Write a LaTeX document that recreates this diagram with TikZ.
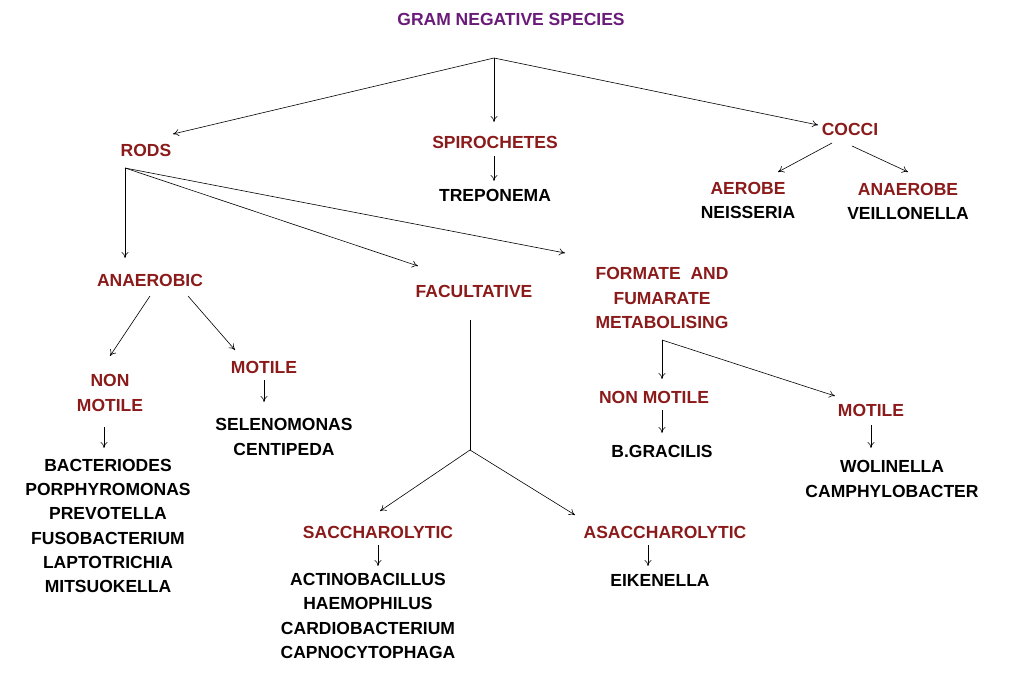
\documentclass[tikz,border=0pt]{standalone}
\usepackage{fontspec}
\setmainfont{Liberation Sans}
\usetikzlibrary{arrows.meta}
\definecolor{hd}{HTML}{8B1A1A}
\definecolor{tt}{HTML}{6A1B7A}
\begin{document}
\begin{tikzpicture}[x=1pt,y=-1pt,
  lab/.style={font=\fontsize{17.5}{24.2}\selectfont\bfseries,inner sep=0pt,align=center},
  hdr/.style={lab,text=hd},
  sp/.style={lab,text=black},
  ar/.style={-{To[length=6pt,width=7pt]},line width=0.6pt},
  ln/.style={line width=0.6pt}]
\useasboundingbox (0,0) rectangle (1024,672);
\node[lab,text=tt] (t) at (511,19) {GRAM NEGATIVE SPECIES};
\node[hdr] (rods) at (146,150) {RODS};
\node[hdr] (spi) at (495,142) {SPIROCHETES};
\node[hdr] (cocci) at (850,129) {COCCI};
\node[sp] (trep) at (495,195) {TREPONEMA};
\node[hdr] (aer) at (748,188) {AEROBE};
\node[sp] (neis) at (748,212) {NEISSERIA};
\node[hdr] (anae) at (908,189) {ANAEROBE};
\node[sp] (veil) at (908,213) {VEILLONELLA};
\node[hdr] (anaer) at (150,280) {ANAEROBIC};
\node[hdr] (fac) at (474,291) {FACULTATIVE};
\node[hdr,align=center] (form) at (662,298) {FORMATE \ AND\\FUMARATE\\METABOLISING};
\node[hdr] (nm) at (110,393) {NON\\MOTILE};
\node[hdr] (mot) at (264,367) {MOTILE};
\node[sp] (sel) at (284,437) {SELENOMONAS\\CENTIPEDA};
\node[sp] (bac) at (108,526) {BACTERIODES\\PORPHYROMONAS\\PREVOTELLA\\FUSOBACTERIUM\\LAPTOTRICHIA\\MITSUOKELLA};
\node[hdr] (nm2) at (654,397) {NON MOTILE};
\node[sp] (bgr) at (662,451) {B.GRACILIS};
\node[hdr] (mot2) at (871,410) {MOTILE};
\node[sp] (wol) at (892,479) {WOLINELLA\\CAMPHYLOBACTER};
\node[hdr] (sac) at (378,532) {SACCHAROLYTIC};
\node[sp] (sacl) at (368,616) {ACTINOBACILLUS\\HAEMOPHILUS\\CARDIOBACTERIUM\\CAPNOCYTOPHAGA};
\node[hdr] (asac) at (665,532) {ASACCHAROLYTIC};
\node[sp] (eik) at (660,580) {EIKENELLA};
\coordinate (top) at (494,58);
\coordinate (rp) at (125,168);
\coordinate (fp) at (470,320);
\coordinate (fb) at (470,450);
\coordinate (mp) at (662,340);
\draw[ar] (top) -- (173,134);
\draw[ar] (top) -- (494,122);
\draw[ar] (top) -- (818,125);
\draw[ar] (832,143) -- (778,172);
\draw[ar] (852,146) -- (908,172);
\draw[ar] (494,156) -- (494,181);
\draw[ar] (rp) -- (125,258);
\draw[ar] (rp) -- (418,266);
\draw[ar] (rp) -- (565,253);
\draw[ar] (150,296) -- (110,356);
\draw[ar] (188,296) -- (235,350);
\draw[ar] (264,380) -- (264,402);
\draw[ar] (104,427) -- (104,448);
\draw[ln] (fp) -- (fb);
\draw[ar] (fb) -- (380,511);
\draw[ar] (fb) -- (575,515);
\draw[ar] (378,545) -- (378,566);
\draw[ar] (648,545) -- (648,566);
\draw[ar] (mp) -- (662,379);
\draw[ar] (mp) -- (835,396);
\draw[ar] (662,410) -- (662,433);
\draw[ar] (871,425) -- (871,448);
\end{tikzpicture}
\end{document}
